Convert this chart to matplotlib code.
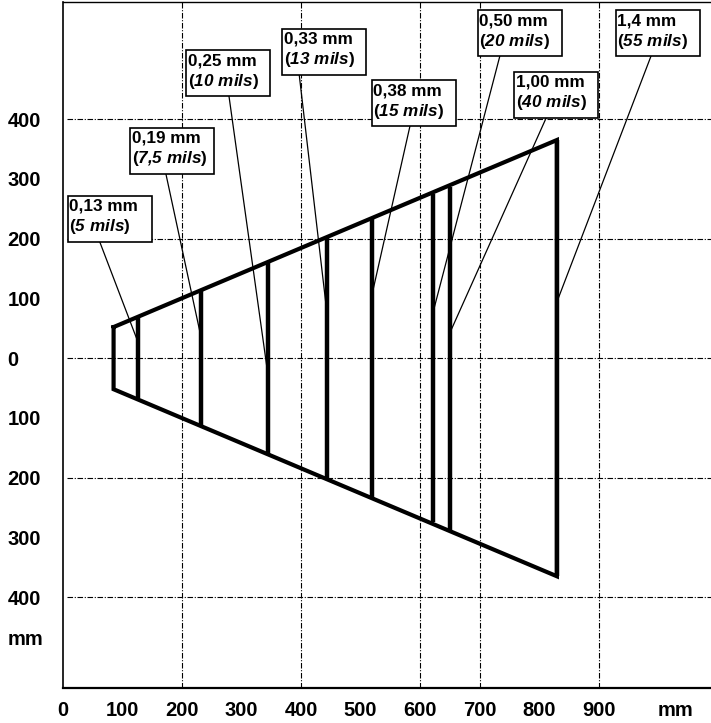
import matplotlib
matplotlib.use('Agg')
import matplotlib.pyplot as plt
from matplotlib.patches import Rectangle

# reading field of the scanner, values in mm
near_depth = 85
near_half = 52
depth_mm = [126, 232, 345, 444, 519, 622, 650, 830]
half_width_mm = [67, 112, 160, 202, 236, 274, 287, 365]
resolution_mm = ['0,13', '0,19', '0,25', '0,33', '0,38', '0,50', '1,00', '1,4']
resolution_mils = ['5', '7{,}5', '10', '13', '15', '20', '40', '55']

x_ticks = [0, 100, 200, 300, 400, 500, 600, 700, 800, 900]
y_ticks = [400, 300, 200, 100, 0, -100, -200, -300, -400]
x_grid = [200, 400, 600, 700, 900]
y_grid = [400, 200, 0, -200, -400]

# label boxes: top-left corner, start of leader line, end of leader on the bar
box_corner = [(8, 271), (113, 385), (207, 515), (368, 551),
              (519, 465), (697, 582), (758, 479), (929, 582)]
leader_start = [(62, 194), (173, 308), (279, 438), (397, 474),
                (583, 388), (734, 505), (812, 402), (988, 505)]
leader_end_y = [27, 35, -32, 72, 105, 77, 42, 94]
box_w, box_h = 141, 77

plt.rcParams['font.family'] = ['Liberation Sans', 'DejaVu Sans']
plt.rcParams['font.weight'] = 'bold'
# math parts are only used for the bold italic "mils" text
plt.rcParams['mathtext.fontset'] = 'custom'
plt.rcParams['mathtext.rm'] = 'Liberation Sans:italic:bold'
plt.rcParams['mathtext.it'] = 'Liberation Sans:italic:bold'
plt.rcParams['mathtext.bf'] = 'Liberation Sans:italic:bold'

fig = plt.figure(figsize=(7.11, 7.23), dpi=100)
ax = fig.add_axes([63 / 711, 35 / 723, 648 / 711, 686 / 723])
ax.set_xlim(0, 1089)
ax.set_ylim(-552, 596)

grid_style = dict(color='black', lw=0.8, linestyle=(0, (5, 1.5, 1, 1.5)), zorder=1)
for gx in x_grid:
    ax.axvline(gx, **grid_style)
for gy in y_grid:
    ax.axhline(gy, xmin=0.006, **grid_style)

# field outline
xs = [near_depth, depth_mm[-1], depth_mm[-1], near_depth, near_depth]
ys = [near_half, half_width_mm[-1], -half_width_mm[-1], -near_half, near_half]
ax.plot(xs, ys, color='black', lw=3, solid_joinstyle='miter', zorder=3)
ax.vlines(depth_mm, [-h for h in half_width_mm], half_width_mm,
          color='black', lw=3.2, zorder=3)

for i in range(len(depth_mm)):
    bx, by = box_corner[i]
    sx, sy = leader_start[i]
    ax.plot([sx, depth_mm[i]], [sy, leader_end_y[i]], color='black', lw=0.9, zorder=4)
    ax.add_patch(Rectangle((bx, by - box_h), box_w, box_h, facecolor='white',
                           edgecolor='black', lw=1.2, zorder=5))
    label = resolution_mm[i] + ' mm\n(' + r'$\mathit{' + resolution_mils[i] + r'\ mils}$' + ')'
    ax.annotate(label, xy=(bx, by), xytext=(1.2, -2), textcoords='offset points',
                ha='left', va='top', fontsize=12.3, fontweight='bold',
                linespacing=1.25, zorder=6)

ax.set_xticks(x_ticks + [1030])
ax.set_xticklabels([str(v) for v in x_ticks] + ['mm'], fontsize=14.5, fontweight='bold')
ax.set_yticks(y_ticks + [-467])
ax.set_yticklabels([str(abs(v)) for v in y_ticks] + ['mm'], fontsize=14.5, fontweight='bold')
for lbl in ax.get_yticklabels():
    lbl.set_horizontalalignment('left')
ax.tick_params(axis='x', length=0, pad=9.5)
ax.tick_params(axis='y', length=0, pad=40)

ax.spines['right'].set_visible(False)
ax.spines['top'].set_linewidth(1.0)
ax.spines['left'].set_linewidth(1.2)
ax.spines['bottom'].set_linewidth(1.6)

fig.savefig('out.png', dpi=100)
